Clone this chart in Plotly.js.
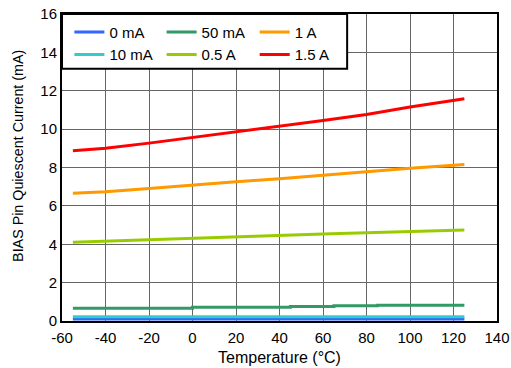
<!DOCTYPE html>
<html>
<head>
<meta charset="utf-8">
<script src="https://cdn.plot.ly/plotly-3.0.1.min.js"></script>
<style>html,body{margin:0;padding:0;background:#fff;}#chart{width:511px;height:368px;}</style>
</head>
<body>
<div id="chart"></div>
<script>
// Temperature (°C)
const temps = [-55, -40, -20, 0, 20, 40, 60, 80, 100, 125];
const temps50 = [-55, 0, 45, 65, 85, 125];
// BIAS pin quiescent current (mA)
const i0mA = [0.11, 0.11, 0.11, 0.11, 0.11, 0.11, 0.11, 0.11, 0.11, 0.11];
const i10mA = [0.22, 0.22, 0.22, 0.22, 0.22, 0.22, 0.22, 0.22, 0.22, 0.22];
const i50mA = [0.67, 0.72, 0.76, 0.79, 0.82, 0.82];
const i05A = [4.11, 4.16, 4.24, 4.32, 4.39, 4.46, 4.53, 4.60, 4.66, 4.74];
const i1A = [6.66, 6.74, 6.90, 7.09, 7.26, 7.42, 7.60, 7.79, 7.96, 8.15];
const i15A = [8.87, 9.00, 9.27, 9.56, 9.88, 10.16, 10.45, 10.76, 11.15, 11.58];
const seriesNames = ['0 mA', '10 mA', '50 mA', '0.5 A', '1 A', '1.5 A'];
const xTicks = [-60, -40, -20, 0, 20, 40, 60, 80, 100, 120, 140];
const yTicks = [0, 2, 4, 6, 8, 10, 12, 14, 16];
const xTitle = 'Temperature (°C)';
const yTitle = 'BIAS Pin Quiescent Current (mA)';

const FONT = 'Liberation Sans, Arial, sans-serif';
const colors = ['#3366ff', '#33cccc', '#339966', '#99cc00', '#ff9900', '#ff0000'];
const legendIds = ['legend', 'legend', 'legend2', 'legend2', 'legend3', 'legend3'];

const xs = [temps, temps, temps50, temps, temps, temps];
const ys = [i0mA, i10mA, i50mA, i05A, i1A, i15A];

const traces = ys.map((y, k) => ({
  x: xs[k], y: y, type: 'scatter', mode: 'lines', name: seriesNames[k],
  line: {color: colors[k], width: 3, shape: k === 2 ? 'hv' : 'linear'},
  legend: legendIds[k]
}));

const legBase = {
  bgcolor: 'rgba(0,0,0,0)', borderwidth: 0, orientation: 'v',
  font: {family: FONT, size: 15, color: '#000'},
  xanchor: 'left', yanchor: 'top', tracegroupgap: 0, traceorder: 'normal'
};

const layout = {
  width: 511, height: 368,
  margin: {l: 62, r: 14, t: 14, b: 47},
  paper_bgcolor: '#fff', plot_bgcolor: '#fff',
  font: {family: FONT, size: 15, color: '#000'},
  showlegend: true,
  xaxis: {
    range: [-60, 140], tickvals: xTicks, ticktext: xTicks.map(String),
    showgrid: true, gridcolor: '#666', gridwidth: 1, zeroline: false,
    showline: true, linecolor: '#000', linewidth: 2, mirror: true,
    ticks: '', ticklabelstandoff: 2, tickfont: {family: FONT, size: 15, color: '#000'},
    title: {text: xTitle, font: {family: FONT, size: 16, color: '#000'}, standoff: 7}
  },
  yaxis: {
    range: [0, 16], tickvals: yTicks, ticktext: yTicks.map(String),
    showgrid: true, gridcolor: '#666', gridwidth: 1, zeroline: false,
    showline: true, linecolor: '#000', linewidth: 2, mirror: true,
    ticks: '', tickfont: {family: FONT, size: 15, color: '#000'}
  },
  annotations: [{
    text: yTitle, xref: 'paper', yref: 'paper', x: -0.101, y: 0.538,
    xanchor: 'center', yanchor: 'middle', textangle: -90, showarrow: false,
    font: {family: FONT, size: 14.3, color: '#000'}
  }],
  legend: Object.assign({}, legBase, {x: 0.017, y: 0.994}),
  legend2: Object.assign({}, legBase, {x: 0.229, y: 0.994}),
  legend3: Object.assign({}, legBase, {x: 0.443, y: 0.994}),
  shapes: [{
    type: 'rect', xref: 'paper', yref: 'paper', x0: 0, x1: 0.6555, y0: 0.822, y1: 1,
    line: {color: '#000', width: 2}, fillcolor: '#fff', layer: 'above'
  }]
};

Plotly.newPlot('chart', traces, layout, {displayModeBar: false, staticPlot: true});
</script>
</body>
</html>
